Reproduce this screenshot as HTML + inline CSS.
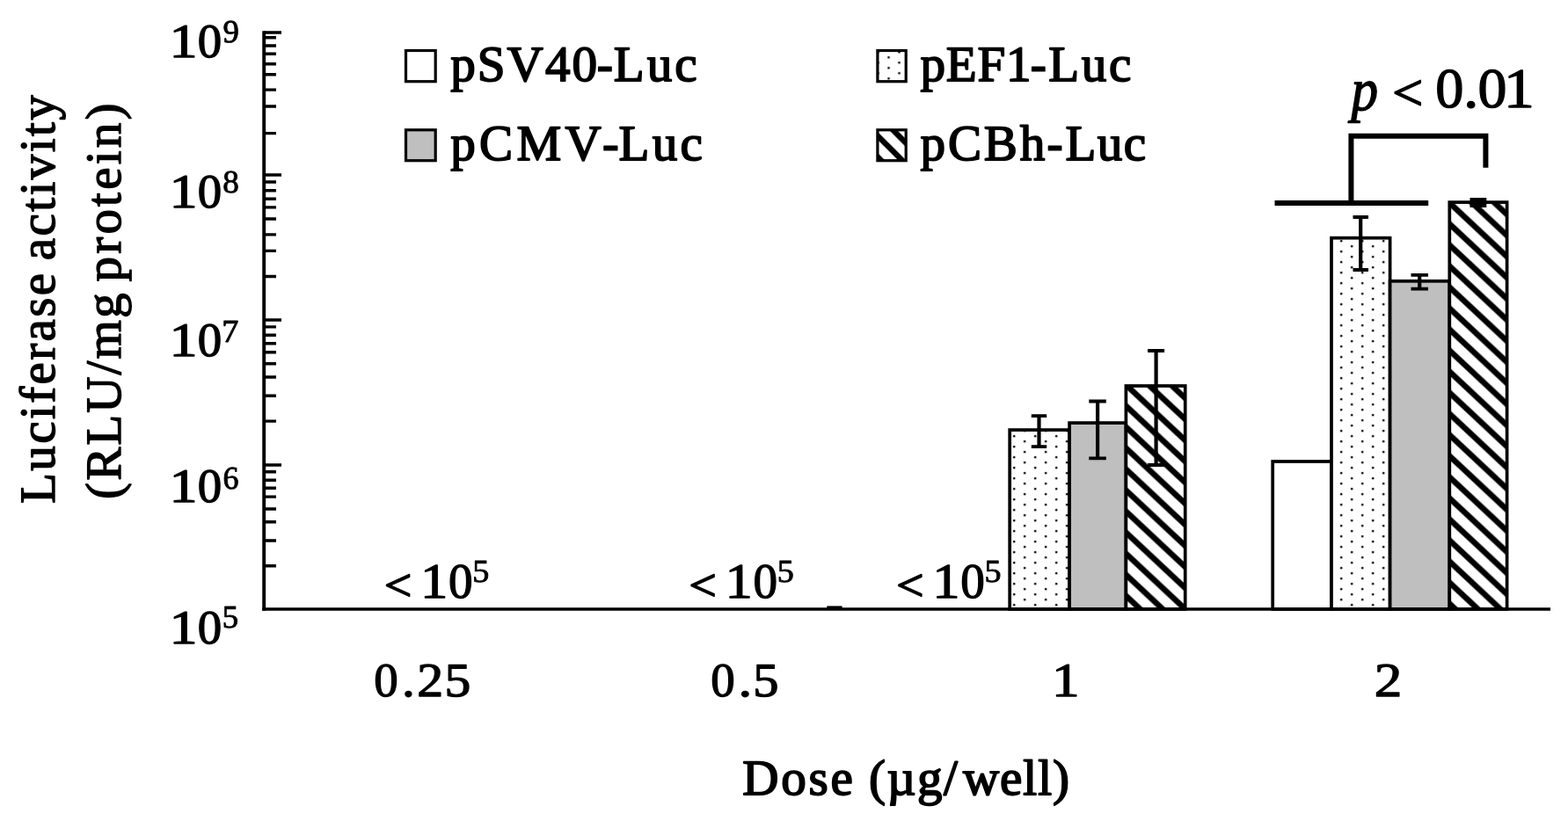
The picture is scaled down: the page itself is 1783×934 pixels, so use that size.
<!DOCTYPE html>
<html lang="en"><head><meta charset="utf-8"><title>Luciferase activity by dose</title>
<style>
html,body{margin:0;padding:0;background:#fff;}
body{width:1783px;height:934px;overflow:hidden;}
svg{display:block;}
text{font-family:"Liberation Serif","DejaVu Serif",serif;font-weight:normal;fill:#000;stroke:#000;stroke-width:1.8px;stroke-linejoin:round;text-rendering:geometricPrecision;}.sup{stroke-width:0.9px;}.lt{stroke-width:1.7px;}.it{font-style:italic;stroke-width:1.5px;}.dg{stroke-width:1.3px;}.yt{stroke-width:1.4px;}
</style></head><body>
<svg width="1783" height="934" viewBox="0 0 1783 934">
<defs>
<pattern id="dots" patternUnits="userSpaceOnUse" x="0" y="0" width="24" height="12" patternTransform="translate(-1.8 1.2)">
<rect x="1.8" y="1.85" width="2.4" height="2.3" fill="#000"/>
<rect x="13.8" y="7.85" width="2.4" height="2.3" fill="#000"/>
</pattern>
<pattern id="dotsL" patternUnits="userSpaceOnUse" x="0" y="0" width="24" height="12" patternTransform="translate(-0.5 2.3)">
<rect x="1.8" y="1.85" width="2.4" height="2.3" fill="#000"/>
<rect x="13.8" y="7.85" width="2.4" height="2.3" fill="#000"/>
</pattern>
<pattern id="hatch" patternUnits="userSpaceOnUse" x="0" y="0" width="25.6" height="24" patternTransform="translate(0 5.45)">
<path d="M-25.6 -24L51.2 48M0 -24L76.8 48M-51.2 -24L25.6 48M-25.6 -48L51.2 24" stroke="#000" stroke-width="6.6" fill="none"/>
</pattern>
<pattern id="hatchL" patternUnits="userSpaceOnUse" x="0" y="0" width="24" height="24" patternTransform="translate(0 20.5)">
<path d="M-24 -24L48 48M0 -24L72 48M-48 -24L24 48M-24 -48L48 24" stroke="#000" stroke-width="6.5" fill="none"/>
</pattern>
</defs>
<rect width="1783" height="934" fill="#fff"/>

<g id="bars">
<rect x="1148.2" y="489.1" width="67.9" height="203.9" fill="#fff"/>
<rect x="1148.2" y="489.1" width="67.9" height="203.9" fill="url(#dots)" stroke="#000" stroke-width="3.7"/>
<rect x="1216.1" y="481.1" width="64.3" height="211.9" fill="#fff"/>
<rect x="1216.1" y="481.1" width="64.3" height="211.9" fill="#bfbfbf" stroke="#000" stroke-width="3.7"/>
<rect x="1280.4" y="439.0" width="67.3" height="254.0" fill="#fff"/>
<rect x="1280.4" y="439.0" width="67.3" height="254.0" fill="url(#hatch)" stroke="#000" stroke-width="3.7"/>
<rect x="1447.2" y="525.0" width="66.8" height="168.0" fill="#fff"/>
<rect x="1447.2" y="525.0" width="66.8" height="168.0" fill="#fff" stroke="#000" stroke-width="3.7"/>
<rect x="1514.0" y="270.7" width="66.6" height="422.3" fill="#fff"/>
<rect x="1514.0" y="270.7" width="66.6" height="422.3" fill="url(#dots)" stroke="#000" stroke-width="3.7"/>
<rect x="1580.6" y="319.8" width="67.7" height="373.2" fill="#fff"/>
<rect x="1580.6" y="319.8" width="67.7" height="373.2" fill="#bfbfbf" stroke="#000" stroke-width="3.7"/>
<rect x="1648.3" y="230.1" width="65.3" height="462.9" fill="#fff"/>
<rect x="1648.3" y="230.1" width="65.3" height="462.9" fill="url(#hatch)" stroke="#000" stroke-width="3.7"/>
</g>
<g id="errors" stroke="#000" fill="none">
<path d="M1181.5 473.2V508.2" stroke-width="4.2"/>
<path d="M1172.8 473.2H1190.2M1172.8 508.2H1190.2" stroke-width="3.8"/>
<path d="M1248.1 456.5V521.3" stroke-width="4.2"/>
<path d="M1238.3 456.5H1257.8M1238.3 521.3H1257.8" stroke-width="3.8"/>
<path d="M1314.6 399.0V529.0" stroke-width="4.2"/>
<path d="M1305.1 399.0H1324.1M1305.1 529.0H1324.1" stroke-width="3.8"/>
<path d="M1547.2 247.0V307.0" stroke-width="4.2"/>
<path d="M1538.5 247.0H1556.0M1538.5 307.0H1556.0" stroke-width="3.8"/>
<path d="M1614.2 312.9V328.6" stroke-width="4.2"/>
<path d="M1604.5 312.9H1624.0M1604.5 328.6H1624.0" stroke-width="3.8"/>
</g>
<rect x="1671.5" y="225" width="18.8" height="11" fill="#000"/>
<rect x="940.3" y="689.4" width="17.3" height="3" fill="#000"/>
<g id="axes" stroke="#000" fill="none">
<path d="M300.2 35.2V694.8" stroke-width="3.9"/>
<path d="M298.3 693.0H1763" stroke-width="3.6"/>
<path d="M300.2 37.0H320M300.2 199.0H320M300.2 364.0H320M300.2 529.0H320" stroke-width="3.6"/>
<path d="M300.2 42.7H314M300.2 52.0H314M300.2 61.2H314M300.2 72.8H314M300.2 84.8H314M300.2 102.1H314M300.2 121.0H314M300.2 151.6H314M300.2 207.0H314M300.2 216.8H314M300.2 226.2H314M300.2 235.9H314M300.2 249.0H314M300.2 266.9H314M300.2 285.4H314M300.2 314.5H314M300.2 371.9H314M300.2 381.2H314M300.2 390.8H314M300.2 400.7H314M300.2 413.8H314M300.2 429.0H314M300.2 450.2H314M300.2 479.1H314M300.2 536.7H314M300.2 546.2H314M300.2 555.2H314M300.2 565.1H314M300.2 579.0H314M300.2 593.8H314M300.2 615.0H314M300.2 643.7H314" stroke-width="3.4"/>
</g>
<g id="bracket" stroke="#000" fill="none" stroke-width="6">
<path d="M1449.5 231.1H1624.2"/>
<path d="M1536.4 231.1V154.8H1689.4V190.7" stroke-linejoin="miter"/>
</g>
<g id="legend" stroke="#000" stroke-width="3.2">
<rect x="461.5" y="57.5" width="33.7" height="35.2" fill="#fff" stroke="none"/>
<rect x="461.5" y="57.5" width="33.7" height="35.2" fill="#fff"/>
<rect x="461.5" y="147.8" width="33.7" height="34.9" fill="#fff" stroke="none"/>
<rect x="461.5" y="147.8" width="33.7" height="34.9" fill="#bfbfbf"/>
<rect x="997.9" y="57.5" width="32.3" height="35.2" fill="#fff" stroke="none"/>
<rect x="997.9" y="57.5" width="32.3" height="35.2" fill="url(#dotsL)"/>
<rect x="997.9" y="147.8" width="32.3" height="34.9" fill="#fff" stroke="none"/>
<rect x="997.9" y="147.8" width="32.3" height="34.9" fill="url(#hatchL)"/>
</g>
<g id="labels">
<text><tspan x="512.15" y="91.60" font-size="57.1" textLength="166.90" lengthAdjust="spacing">pSV40</tspan><tspan x="678.78" y="91.60" font-size="57.1" textLength="18.21" lengthAdjust="spacingAndGlyphs">-</tspan><tspan x="697.81" y="91.60" font-size="57.1" textLength="94.88" lengthAdjust="spacing">Luc</tspan></text>
<text><tspan x="512.15" y="181.60" font-size="57.1" textLength="171.58" lengthAdjust="spacing">pCMV</tspan><tspan x="685.11" y="181.60" font-size="57.1" textLength="18.64" lengthAdjust="spacingAndGlyphs">-</tspan><tspan x="703.61" y="181.60" font-size="57.1" textLength="95.33" lengthAdjust="spacing">Luc</tspan></text>
<text><tspan x="1046.55" y="91.60" font-size="57.1" textLength="126.05" lengthAdjust="spacing">pEF1</tspan><tspan x="1171.66" y="91.60" font-size="57.1" textLength="18.06" lengthAdjust="spacingAndGlyphs">-</tspan><tspan x="1192.21" y="91.60" font-size="57.1" textLength="94.10" lengthAdjust="spacing">Luc</tspan></text>
<text><tspan x="1046.55" y="181.60" font-size="57.1" textLength="141.66" lengthAdjust="spacing">pCBh</tspan><tspan x="1190.56" y="181.60" font-size="57.1" textLength="18.06" lengthAdjust="spacingAndGlyphs">-</tspan><tspan x="1211.41" y="181.60" font-size="57.1" textLength="91.80" lengthAdjust="spacing">Luc</tspan></text>
<text><tspan x="192.61" y="64.50" font-size="54.4" textLength="32.04" lengthAdjust="spacingAndGlyphs" class="dg">1</tspan><tspan x="224.79" y="64.50" font-size="54.4" textLength="27.43" lengthAdjust="spacingAndGlyphs" class="dg">0</tspan><tspan x="253.49" y="47.80" font-size="36.6" textLength="18.37" lengthAdjust="spacingAndGlyphs" class="sup">9</tspan></text>
<text><tspan x="192.61" y="235.70" font-size="54.4" textLength="32.04" lengthAdjust="spacingAndGlyphs" class="dg">1</tspan><tspan x="224.79" y="235.70" font-size="54.4" textLength="27.43" lengthAdjust="spacingAndGlyphs" class="dg">0</tspan><tspan x="253.32" y="219.00" font-size="36.6" textLength="18.58" lengthAdjust="spacingAndGlyphs" class="sup">8</tspan></text>
<text><tspan x="192.61" y="405.40" font-size="54.4" textLength="32.04" lengthAdjust="spacingAndGlyphs" class="dg">1</tspan><tspan x="224.79" y="405.40" font-size="54.4" textLength="27.43" lengthAdjust="spacingAndGlyphs" class="dg">0</tspan><tspan x="252.33" y="388.70" font-size="36.6" textLength="19.11" lengthAdjust="spacingAndGlyphs" class="sup">7</tspan></text>
<text><tspan x="192.61" y="571.40" font-size="54.4" textLength="32.04" lengthAdjust="spacingAndGlyphs" class="dg">1</tspan><tspan x="224.79" y="571.40" font-size="54.4" textLength="27.43" lengthAdjust="spacingAndGlyphs" class="dg">0</tspan><tspan x="253.46" y="555.60" font-size="36.6" textLength="17.99" lengthAdjust="spacingAndGlyphs" class="sup">6</tspan></text>
<text><tspan x="192.61" y="731.50" font-size="54.4" textLength="32.04" lengthAdjust="spacingAndGlyphs" class="dg">1</tspan><tspan x="224.79" y="731.50" font-size="54.4" textLength="27.43" lengthAdjust="spacingAndGlyphs" class="dg">0</tspan><tspan x="252.76" y="714.00" font-size="36.6" textLength="18.36" lengthAdjust="spacingAndGlyphs" class="sup">5</tspan></text>
<text><tspan x="437.04" y="682.50" font-size="51.25" textLength="31.16" lengthAdjust="spacingAndGlyphs" class="lt">&lt;</tspan> <tspan x="478.06" y="679.75" font-size="56.2" textLength="31.34" lengthAdjust="spacingAndGlyphs" class="dg">1</tspan><tspan x="509.97" y="679.75" font-size="56.2" textLength="27.60" lengthAdjust="spacingAndGlyphs" class="dg">0</tspan><tspan x="537.20" y="662.20" font-size="36.6" textLength="19.08" lengthAdjust="spacingAndGlyphs" class="sup">5</tspan></text>
<text><tspan x="783.54" y="682.50" font-size="51.25" textLength="31.16" lengthAdjust="spacingAndGlyphs" class="lt">&lt;</tspan> <tspan x="824.56" y="679.75" font-size="56.2" textLength="31.34" lengthAdjust="spacingAndGlyphs" class="dg">1</tspan><tspan x="856.47" y="679.75" font-size="56.2" textLength="27.60" lengthAdjust="spacingAndGlyphs" class="dg">0</tspan><tspan x="883.70" y="662.20" font-size="36.6" textLength="19.08" lengthAdjust="spacingAndGlyphs" class="sup">5</tspan></text>
<text><tspan x="1019.24" y="682.50" font-size="51.25" textLength="31.16" lengthAdjust="spacingAndGlyphs" class="lt">&lt;</tspan> <tspan x="1060.26" y="679.75" font-size="56.2" textLength="31.34" lengthAdjust="spacingAndGlyphs" class="dg">1</tspan><tspan x="1092.17" y="679.75" font-size="56.2" textLength="27.60" lengthAdjust="spacingAndGlyphs" class="dg">0</tspan><tspan x="1119.40" y="662.20" font-size="36.6" textLength="19.08" lengthAdjust="spacingAndGlyphs" class="sup">5</tspan></text>
<text><tspan x="425.39" y="791.60" font-size="54.4" textLength="27.43" lengthAdjust="spacingAndGlyphs" class="dg">0</tspan><tspan x="456.98" y="791.60" font-size="54.4" textLength="14.79" lengthAdjust="spacingAndGlyphs" class="dg">.</tspan><tspan x="474.39" y="791.60" font-size="54.4" textLength="29.93" lengthAdjust="spacingAndGlyphs" class="dg">2</tspan><tspan x="505.48" y="791.60" font-size="54.4" textLength="29.79" lengthAdjust="spacingAndGlyphs" class="dg">5</tspan></text>
<text><tspan x="808.19" y="791.60" font-size="54.4" textLength="27.43" lengthAdjust="spacingAndGlyphs" class="dg">0</tspan><tspan x="839.59" y="791.60" font-size="54.4" textLength="15.71" lengthAdjust="spacingAndGlyphs" class="dg">.</tspan><tspan x="856.36" y="791.60" font-size="54.4" textLength="29.22" lengthAdjust="spacingAndGlyphs" class="dg">5</tspan></text>
<text><tspan x="1195.99" y="791.90" font-size="54.4" textLength="31.58" lengthAdjust="spacingAndGlyphs" class="dg">1</tspan></text>
<text><tspan x="1562.65" y="791.90" font-size="54.4" textLength="31.56" lengthAdjust="spacingAndGlyphs" class="dg">2</tspan></text>
<text><tspan x="844.20" y="903.80" font-size="57.1" textLength="125.70" lengthAdjust="spacing">Dose</tspan> <tspan x="988.04" y="903.80" font-size="57.1" textLength="100.92" lengthAdjust="spacing">(µg/</tspan><tspan x="1094.88" y="903.80" font-size="57.1" textLength="121.07" lengthAdjust="spacing">well)</tspan></text>
<text><tspan x="1536.39" y="124.60" font-size="68.3" textLength="30.56" lengthAdjust="spacingAndGlyphs" class="it">p</tspan> <tspan x="1583.27" y="125.40" font-size="58.6" textLength="34.92" lengthAdjust="spacingAndGlyphs" class="lt">&lt;</tspan> <tspan x="1632.38" y="122.40" font-size="63.9" textLength="32.14" lengthAdjust="spacingAndGlyphs" class="dg">0</tspan><tspan x="1663.91" y="122.40" font-size="63.9" textLength="17.42" lengthAdjust="spacingAndGlyphs" class="dg">.</tspan><tspan x="1680.57" y="122.40" font-size="63.9" textLength="32.93" lengthAdjust="spacingAndGlyphs" class="dg">0</tspan><tspan x="1709.70" y="122.40" font-size="63.9" textLength="35.20" lengthAdjust="spacingAndGlyphs" class="dg">1</tspan></text>
<text transform="rotate(-90)"><tspan x="-572.92" y="62.40" font-size="57.1" textLength="262.12" lengthAdjust="spacing" class="yt">Luciferase</tspan> <tspan x="-296.22" y="62.40" font-size="57.1" textLength="188.14" lengthAdjust="spacing" class="yt">activity</tspan></text>
<text transform="rotate(-90)"><tspan x="-567.88" y="136.60" font-size="57.1" textLength="234.31" lengthAdjust="spacing" class="yt">(RLU/mg</tspan> <tspan x="-320.56" y="136.60" font-size="57.1" textLength="203.08" lengthAdjust="spacing" class="yt">protein)</tspan></text>
</g>
</svg>
</body></html>
